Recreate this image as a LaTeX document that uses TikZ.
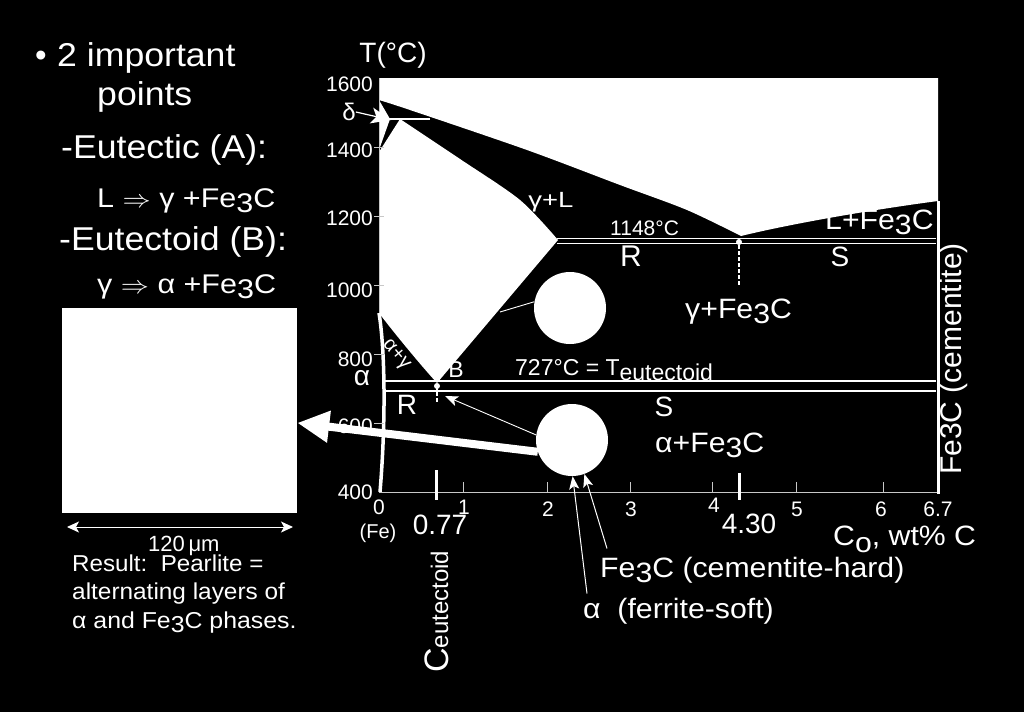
\documentclass[tikz,border=0pt]{standalone}
\usepackage{fontspec}
\setmainfont{Liberation Sans}
\usetikzlibrary{arrows.meta,calc}
\newcommand{\fsz}[1]{\fontsize{#1}{#1}\selectfont}
\newcommand{\lowr}[1]{\raisebox{-0.2em}{#1}}
\definecolor{axisgray}{RGB}{200,200,200}
\begin{document}
\begin{tikzpicture}[x=1pt,y=-1pt,
  lbl/.style={text=white,inner sep=0pt,font=\fsz{28}},
  wide/.style={xscale=1.08},
  wline/.style={draw=white,line width=1.8pt},
  thinln/.style={draw=white,line width=0.9pt},
  tickln/.style={draw=axisgray,line width=1pt},
  dimarrow/.style={draw=white,line width=1pt,{Stealth[length=12pt,width=11pt,inset=3pt]}-{Stealth[length=12pt,width=11pt,inset=3pt]}},
  ptr/.style={draw=white,line width=1pt,-{Stealth[length=13pt,width=10pt,inset=3pt]}},
  bigarrow/.style={draw=white,line width=8pt,-{Triangle[length=32pt,width=30pt]}},
  blob/.style={circle,fill=white,minimum size=72pt,inner sep=0pt}
]
\fill[black] (0,0) rectangle (1024,712);
\useasboundingbox (0,0) rectangle (1024,712);

% liquid region
\fill[white] (379,78) -- (938,78) -- (938,201) .. controls (870,210) and (790,224) .. (741,236)
  -- plot[smooth] coordinates {(741,236) (687,210) (620,185) (527,150) (410,110) (379,100)} -- cycle;
% delta region
\fill[white] (379,100) -- (390,119) -- (379,150) -- cycle;
% gamma region
\fill[white] (379,152) -- (400,119) -- plot[smooth] coordinates {(400,119) (460,159) (520,200) (558,240)}
  -- (437,383) .. controls (425,370) and (398,338) .. (379,313) -- cycle;
% alpha strip
\draw[white,line width=3.5pt] (379,313) .. controls (385,350) and (386,420) .. (380,492);

% axes
\draw[tickln] (379,78) -- (379,313);
\draw[tickln] (379,492) -- (938,492);
\foreach \xx in {463,547,630,712,796,883} \draw[tickln] (\xx,482) -- (\xx,492);
\foreach \yy in {147,216,285,354,423} \draw[tickln] (374,\yy) -- (384,\yy);
\draw[white,line width=3pt] (436,470) -- (436,500);
\draw[white,line width=3pt] (739,473) -- (739,500);

% invariant lines
\draw[white,line width=1.5pt] (379,119) -- (430,119);
\draw[wline] (557,238.5) -- (936,238.5);
\draw[wline] (557,243.5) -- (936,243.5);
\draw[wline] (385,381) -- (936,381);
\draw[wline] (385,391) -- (936,391);
\draw[white,line width=3pt] (938,201) -- (938,494);
\fill[white] (739,242) circle (3);
\draw[white,line width=1.6pt,dash pattern=on 4pt off 2pt] (739,245) -- (739,286);
\fill[white] (437,386) circle (3);
\draw[white,line width=1.6pt,dash pattern=on 4pt off 2pt] (437,386) -- (437,403);

% microstructure blobs and square
\node[blob] (c1) at (570,308) {};
\node[blob] (c2) at (572,440) {};
\node[fill=white,minimum width=235pt,minimum height=205pt,inner sep=0pt] (sq) at (179.5,410.5) {};

\coordinate (gpt) at (500,312);
\coordinate (eutA) at (445,396);
\coordinate (dtip) at (391,120);
\coordinate (dl) at (67,527);
\coordinate (dr) at (293,527);

% left text
\node[lbl,font=\fsz{33},anchor=base west] (bul) at (35,66) {•};
\node[lbl,wide,font=\fsz{33},anchor=base west] (t1) at (57,66) {2 important};
\node[lbl,wide,font=\fsz{33},anchor=base west] (t2) at (97,105) {points};
\node[lbl,wide,font=\fsz{33},anchor=base west] (t3) at (61,158) {-Eutectic (A):};
\node[lbl,xscale=1.13,font=\fsz{27},anchor=base west] (t4) at (97,207) {L $\Rightarrow$ γ +Fe\lowr{3}C};
\node[lbl,wide,font=\fsz{33},anchor=base west] (t5) at (59,250) {-Eutectoid (B):};
\node[lbl,xscale=1.13,font=\fsz{27},anchor=base west] (t6) at (97,293) {γ $\Rightarrow$ α +Fe\lowr{3}C};
\node[lbl,font=\fsz{22},anchor=base west] (um) at (148,551) {120\,μm};
\node[lbl,xscale=1.05,font=\fsz{23},anchor=base west] (r1) at (72,571) {Result:\ \ Pearlite =};
\node[lbl,xscale=1.06,font=\fsz{23},anchor=base west] (r2) at (72,599) {alternating layers of};
\node[lbl,xscale=1.08,font=\fsz{23},anchor=base west] (r3) at (72,628) {α and Fe\lowr{3}C phases.};

% axis labels
\node[lbl] (T) at (393,55) {T(°C)};
\foreach \yy/\tt in {84/1600,150/1400,218/1200,290/1000,359/800,426/600,492/400}
  \node[lbl,font=\fsz{21},anchor=east] at (373,\yy) {\tt};
\foreach \xx/\yy/\tt in {379/507/0,464/507/1,548/509/2,631/509/3,714/505/4,797/509/5,881/509/6,938/509/6.7}
  \node[lbl,font=\fsz{21}] at (\xx,\yy) {\tt};
\node[lbl,font=\fsz{20}] (fe) at (378,533) {(Fe)};
\node[lbl] (c077) at (440,525) {0.77};
\node[lbl] (c430) at (749,524) {4.30};
\node[lbl,wide,anchor=base west] (co) at (833,545) {C\raisebox{-0.25em}{o}, wt\% C};
\node[lbl,rotate=90,anchor=base west] (ceu) at (448,673) {{\fsz{34}C}{\fsz{24}eutectoid}};
\node[lbl,wide,anchor=base west] (flab) at (600,577) {Fe\lowr{3}C (cementite-hard)};
\node[lbl,wide,anchor=base west] (alab) at (583,618) {α\ \ (ferrite-soft)};

% phase labels
\node[lbl,font=\fsz{24}] (dlab) at (349,112) {δ};
\node[lbl] (alf) at (362,378) {α};
\node[lbl,font=\fsz{20},rotate=-50] (ag) at (396,355) {α+γ};
\node[lbl,font=\fsz{23}] (B) at (456,370) {B};
\node[lbl] (R2) at (407,405) {R};
\node[lbl,font=\fsz{23},anchor=base west] (teu) at (515,375) {727°C = T\raisebox{-0.25em}{eutectoid}};
\node[lbl] (S2) at (664,407) {S};
\node[lbl,wide,anchor=base west] (afe) at (655,452) {α+Fe\lowr{3}C};
\node[lbl,wide,anchor=base west] (gfe) at (685,318) {γ+Fe\lowr{3}C};
\node[lbl,font=\fsz{22},xscale=1.25,anchor=base west] (gl) at (528,207) {γ+L};
\node[lbl,font=\fsz{21},anchor=base west] (t1148) at (610,235) {1148°C};
\node[lbl,font=\fsz{30}] (R1) at (631,256) {R};
\node[lbl] (S1) at (840,257) {S};
\node[lbl,wide,anchor=base west] (lfe) at (825,229) {L+Fe\lowr{3}C};
\node[lbl,font=\fsz{30},rotate=90] (cem) at (954,359) {Fe3C (cementite)};

% connectors
\draw[thinln] (c1.170) -- (gpt);
\draw[ptr,line width=0.9pt] (c2.172) -- (eutA);
\draw[bigarrow] (c2.199) -- (sq.-6.5);
\draw[draw=white,line width=1.2pt,-{Stealth[length=20pt,width=16pt,inset=5pt]}] (dlab.east) -- (dtip);
\draw[ptr] ([xshift=4pt,yshift=4pt]alab.north west) -- (c2.-89);
\draw[ptr] ([xshift=7pt,yshift=8pt]flab.north west) -- (c2.-70);
\draw[dimarrow] (dl) -- (dr);
\end{tikzpicture}
\end{document}
